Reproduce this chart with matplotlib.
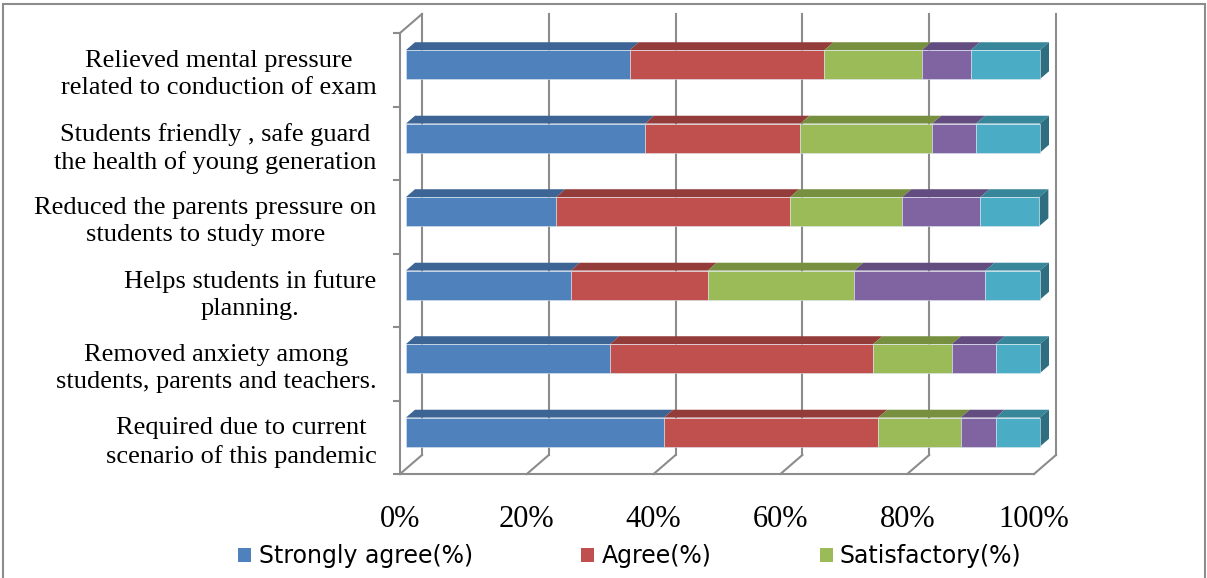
import matplotlib
matplotlib.use("Agg")
import matplotlib.pyplot as plt
from matplotlib.patches import Polygon, Rectangle, Patch
import numpy as np

# data, bottom to top as drawn
categories = [
    "Required due to current\nscenario of this pandemic",
    "Removed anxiety among\nstudents, parents and teachers.",
    "Helps students in future\nplanning.",
    "Reduced the parents pressure on\nstudents to study more",
    "Students friendly , safe guard\nthe health of young generation",
    "Relieved mental pressure\nrelated to conduction of exam",
]
strongly_agree = [40.7, 32.2, 26.0, 23.7, 37.7, 35.3]
agree = [33.8, 41.5, 21.6, 36.9, 24.5, 30.7]
satisfactory = [13.0, 12.4, 23.1, 17.7, 20.8, 15.4]
disagree = [5.5, 6.9, 20.7, 12.3, 6.9, 7.7]
strongly_disagree = [7.0, 7.0, 8.6, 9.3, 10.1, 10.9]

series_names = ["Strongly agree(%)", "Agree(%)", "Satisfactory(%)",
                "Disagree(%)", "Strongly disagree(%)"]
front_cols = ["#4F81BD", "#C0504D", "#9BBB59", "#8064A2", "#4BACC6"]
top_cols = ["#3C6494", "#943C3A", "#77903F", "#634C7F", "#38869A"]
side_col = "#2F6E80"
grid_col = "#8C8C8C"

W, H = 1207, 578
fig = plt.figure(figsize=(W / 100, H / 100), dpi=100)

# axes: x 0..100 -> px 400..1034, y 0..6 -> px 474..33
ax = fig.add_axes([400 / W, 1 - 474 / H, 634 / W, 441 / H])
ax.set_xlim(0, 100)
ax.set_ylim(0, 6)
for s in ax.spines.values():
    s.set_visible(False)

# 3d depth of the plot box, in data units
DX = 22 / 6.34
DY = 19 / 73.5
# bar offset/depth
OX = 6 / 6.34
OY = 5.2 / 73.5
BX = 9 / 6.34
BY = 7.8 / 73.5
BH = 0.395

lkw = dict(color=grid_col, lw=1.5, clip_on=False, zorder=1)
xt = [0, 20, 40, 60, 80, 100]
for v in xt:
    ax.plot([v + DX, v + DX], [DY, 6 + DY], **lkw)
    ax.plot([v, v + DX], [0, DY], **lkw)
ax.plot([0, 100], [0, 0], **lkw)
ax.plot([0, 0], [0, 6], **lkw)
ax.plot([0, DX], [6, 6 + DY], **lkw)

# y ticks at category boundaries
for k in range(7):
    ax.plot([-0.95, 0], [k, k], **lkw)

data = [strongly_agree, agree, satisfactory, disagree, strongly_disagree]
yc = np.arange(len(categories)) + 0.5 + OY
left = np.zeros(len(categories)) + OX
for j, vals in enumerate(data):
    vals = np.array(vals)
    ax.barh(yc, vals, left=left, height=BH, color=front_cols[j],
            edgecolor="#DCE6F0", linewidth=0.4, zorder=3, clip_on=False)
    for i in range(len(categories)):
        l, r = left[i], left[i] + vals[i]
        t = yc[i] + BH / 2
        ax.add_patch(Polygon([(l, t), (l + BX, t + BY), (r + BX, t + BY), (r, t)],
                             closed=True, facecolor=top_cols[j], edgecolor="none",
                             zorder=2, clip_on=False))
        if j == len(data) - 1:
            b = yc[i] - BH / 2
            ax.add_patch(Polygon([(r, b), (r, t), (r + BX, t + BY), (r + BX, b + BY)],
                                 closed=True, facecolor=side_col, edgecolor="none",
                                 zorder=2, clip_on=False))
    left = left + vals

ax.set_xticks(xt)
ax.set_xticklabels([f"{v}%" for v in xt], fontfamily="Liberation Serif", fontsize=22)
ax.set_yticks(np.arange(len(categories)) + 0.5)
ax.set_yticklabels(categories, fontfamily="Liberation Serif", fontsize=19,
                   multialignment="center", linespacing=1.3)
ax.tick_params(axis="x", length=0, pad=22)
ax.tick_params(axis="y", length=0, pad=17)

# legend (only first three entries are visible in the original)
handles = [Patch(facecolor=front_cols[j], edgecolor="none") for j in range(3)]
fig.legend(handles, series_names[:3], loc="center", bbox_to_anchor=(630 / W, 1 - 556 / H),
           ncol=3, frameon=False, prop={"family": "DejaVu Sans", "size": 17},
           handlelength=0.55, handleheight=0.55, handletextpad=0.3, columnspacing=4.6)

# outer border
fig.add_artist(Rectangle((3 / W, -0.05), 1202 / W, 1.05 - 4 / H, transform=fig.transFigure,
                         fill=False, edgecolor=grid_col, lw=1.5))

fig.savefig("out.png", dpi=100)
